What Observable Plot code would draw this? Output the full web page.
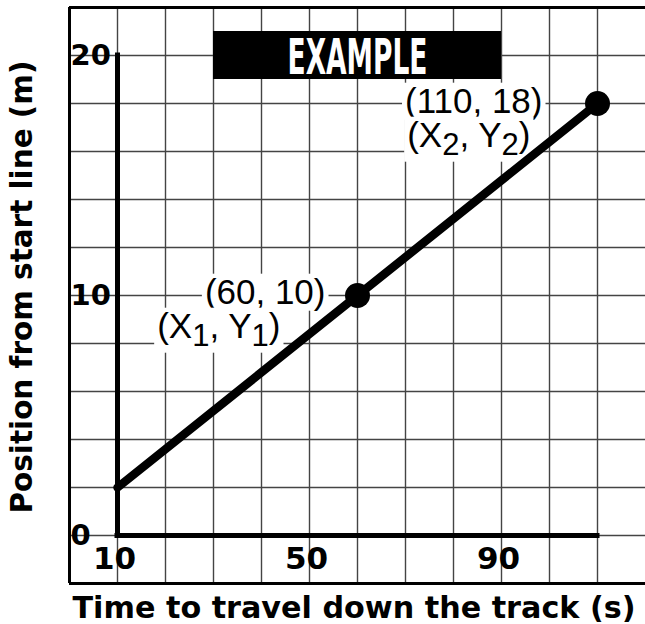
<!DOCTYPE html>
<html><head><meta charset="utf-8">
<script src="https://cdn.jsdelivr.net/npm/d3@7"></script>
<script src="https://cdn.jsdelivr.net/npm/@observablehq/plot@0.6"></script>
<style>body{margin:0;background:#fff}</style>
</head><body><div id="chart"></div>
<script>
const xGrid = [10, 20, 30, 40, 50, 60, 70, 80, 90, 100, 110];
const yGrid = [0, 2, 4, 6, 8, 10, 12, 14, 16, 18, 20];
const xTicks = [10, 50, 90];
const yTicks = [0, 10, 20];
const xFrame = [0, 120];
const yFrame = [-2, 22];
const lineTimes = [10, 110];
const linePositions = [2, 18];
const pointTimes = [60, 110];
const pointPositions = [10, 18];
const pointLabels = ["(60, 10)", "(110, 18)"];
const pointNames = ["(X1, Y1)", "(X2, Y2)"];
const bannerText = "EXAMPLE";
const bannerTimes = [30, 90];
const bannerPositions = [19, 21];
const xTitle = "Time to travel down the track (s)";
const yTitle = "Position from start line (m)";

const lineData = lineTimes.map((t, i) => ({t, p: linePositions[i]}));
const points = pointTimes.map((t, i) => ({t, p: pointPositions[i], label: pointLabels[i], name: pointNames[i]}));
const banner = [{x1: bannerTimes[0], x2: bannerTimes[1], y1: bannerPositions[0], y2: bannerPositions[1], text: bannerText}];

const heavy = "DejaVu Sans, Liberation Sans, sans-serif";
const plain = "Liberation Sans, Arial, Helvetica, sans-serif";
const heavyStyle = {fontFamily: heavy, fontWeight: "bold", fill: "black"};
const labelStyle = {fill: "black", fontFamily: plain, fontSize: 35, textAnchor: "end", lineAnchor: "middle"};
const offsets = [
  {label: [-32, -3], name: [-77, 31]},
  {label: [-55, -2], name: [-67, 32]}
];
const labelTexts = new Set([...pointLabels, ...pointNames]);

const chart = Plot.plot({
  width: 645, height: 624,
  marginLeft: 69, marginRight: 0, marginTop: 7, marginBottom: 41,
  x: {domain: xFrame, axis: null},
  y: {domain: yFrame, axis: null},
  style: {background: "white", overflow: "visible"},
  marks: [
    Plot.ruleX(xGrid, {stroke: "#444", strokeWidth: 1.4}),
    Plot.ruleY(yGrid, {stroke: "#444", strokeWidth: 1.4}),
    Plot.ruleX([xFrame[0]], {stroke: "black", strokeWidth: 3}),
    Plot.ruleY(yFrame, {stroke: "black", strokeWidth: 3}),
    Plot.rect(banner, {x1: "x1", x2: "x2", y1: "y1", y2: "y2", fill: "black"}),
    Plot.text(banner, {x: d => (d.x1 + d.x2) / 2, y: d => (d.y1 + d.y2) / 2, text: "text",
      fill: "white", fontWeight: "bold", fontSize: 50,
      fontFamily: "Liberation Sans Narrow, DejaVu Sans Condensed, DejaVu Sans", lineAnchor: "middle", dy: 2}),
    ...points.flatMap((d, i) => [
      Plot.text([d], {x: "t", y: "p", text: "label", ...labelStyle, dx: offsets[i].label[0], dy: offsets[i].label[1]}),
      Plot.text([d], {x: "t", y: "p", text: "name", ...labelStyle, dx: offsets[i].name[0], dy: offsets[i].name[1]})
    ]),
    Plot.ruleX([lineTimes[0]], {y1: yTicks[0], y2: yTicks[yTicks.length - 1], stroke: "black", strokeWidth: 5, strokeLinecap: "square"}),
    Plot.ruleY([yTicks[0]], {x1: lineTimes[0], x2: lineTimes[1], stroke: "black", strokeWidth: 5, strokeLinecap: "square"}),
    Plot.line(lineData, {x: "t", y: "p", stroke: "black", strokeWidth: 8.5}),
    Plot.dot(points, {x: "t", y: "p", r: 12.5, fill: "black"}),
    Plot.text(yTicks, {y: d => d, text: d => String(d), frameAnchor: "left", textAnchor: "start", lineAnchor: "middle",
      dx: 1, fontSize: 29, ...heavyStyle}),
    Plot.text(xTicks, {x: d => d, text: d => String(d), frameAnchor: "bottom", lineAnchor: "middle",
      dx: -3, dy: -24.5, fontSize: 31, ...heavyStyle}),
    Plot.text([xTitle], {text: d => d, frameAnchor: "bottom-left", textAnchor: "start", lineAnchor: "bottom",
      dx: 3, dy: 34, fontSize: 30, ...heavyStyle}),
    Plot.text([yTitle], {text: d => d, frameAnchor: "left", rotate: -90, textAnchor: "middle", lineAnchor: "bottom",
      dx: -38, dy: -8.5, fontSize: 30, ...heavyStyle})
  ]
});

document.getElementById("chart").appendChild(chart);

const svgNS = "http://www.w3.org/2000/svg";
d3.select(chart).selectAll("text").each(function () {
  const t = this.textContent;
  if (t === xTitle) { this.setAttribute("textLength", 563); this.setAttribute("lengthAdjust", "spacingAndGlyphs"); }
  else if (t === yTitle) { this.setAttribute("textLength", 453); this.setAttribute("lengthAdjust", "spacingAndGlyphs"); }
  else if (t === bannerText) { this.setAttribute("textLength", 140); this.setAttribute("lengthAdjust", "spacingAndGlyphs"); }
  const m = t.match(/^\((X)(\d), (Y)(\d)\)$/);
  if (m) {
    while (this.firstChild) this.removeChild(this.firstChild);
    const parts = [["(X", 0], [m[2], 1], [", Y", 0], [m[4], 1], [")", 0]];
    let shifted = false;
    for (const [s, sub] of parts) {
      const ts = document.createElementNS(svgNS, "tspan");
      ts.textContent = s;
      if (sub) { ts.setAttribute("font-size", 31); ts.setAttribute("dy", 8); }
      else if (shifted) ts.setAttribute("dy", -8);
      shifted = !!sub;
      this.appendChild(ts);
    }
  }
  if (labelTexts.has(t)) {
    // white background behind annotation text (gridlines break around it)
    const b = this.getBBox();
    const r = document.createElementNS(svgNS, "rect");
    r.setAttribute("x", b.x - 3);
    r.setAttribute("y", b.y + 2);
    r.setAttribute("width", b.width + 6);
    r.setAttribute("height", b.height - 2);
    r.setAttribute("fill", "white");
    r.setAttribute("stroke", "none");
    const tr = this.getAttribute("transform");
    if (tr) r.setAttribute("transform", tr);
    this.parentNode.insertBefore(r, this);
  }
});
</script>
</body></html>
